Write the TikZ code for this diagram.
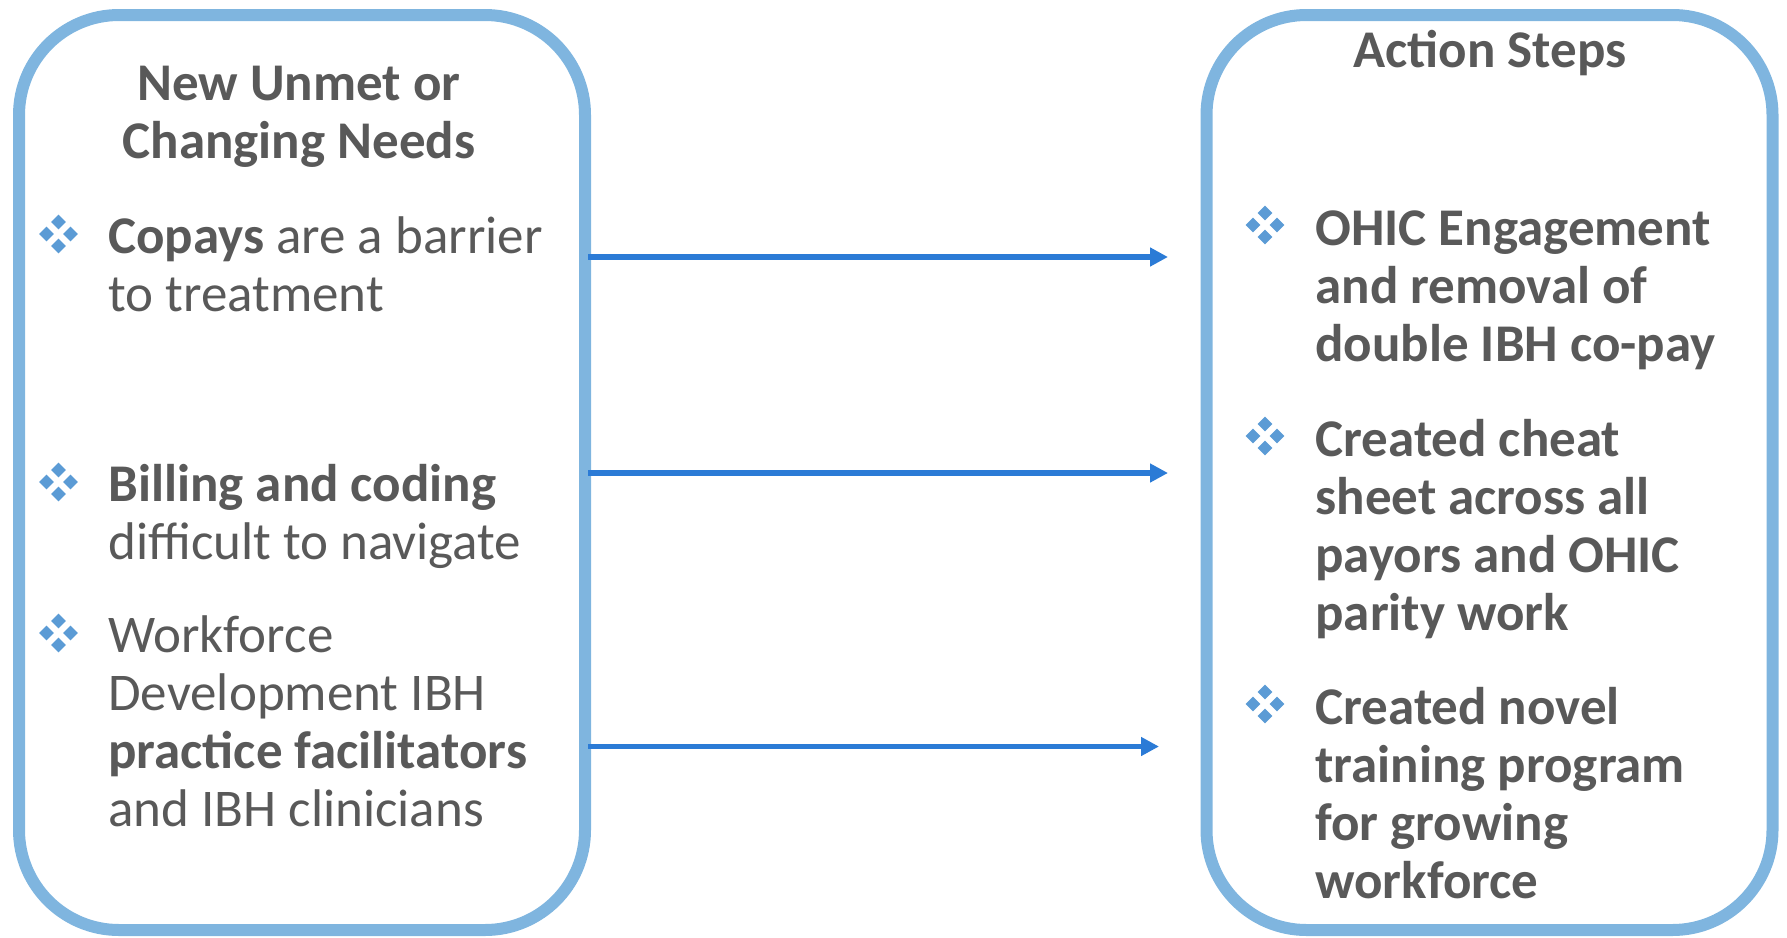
\documentclass[tikz,border=0pt]{standalone}
\usepackage{fontspec}
\setmainfont{Carlito}
\usetikzlibrary{arrows.meta}
\definecolor{boxc}{HTML}{7FB5DF}
\definecolor{arrc}{HTML}{2B7BD6}
\definecolor{bulc}{HTML}{5B9BD5}
\definecolor{txtc}{HTML}{595959}
\begin{document}
\begin{tikzpicture}[x=0.5pt,y=-0.5pt,
  panel/.style={draw=boxc,line width=6pt,rounded corners=50pt,minimum width=283pt,minimum height=457.5pt,inner sep=0pt,outer sep=0pt},
  conn/.style={draw=arrc,line width=2.6pt,-{Triangle[length=9pt,width=9pt]}},
  txt/.style={text=txtc,font=\fontsize{26.5}{29}\selectfont,inner sep=0pt,anchor=base west,align=flush left,text width=250pt},
  ttl/.style={text=txtc,font=\fontsize{26.5}{29}\selectfont\bfseries,inner sep=0pt,anchor=base,align=flush center,text width=300pt},
  quad/.pic={\foreach \dx/\dy in {0/-12,-12/0,12/0,0/12}{\fill[bulc] (\dx,\dy-7.3) -- (\dx+7.3,\dy) -- (\dx,\dy+7.3) -- (\dx-7.3,\dy) -- cycle;}}]
\useasboundingbox (0,0) rectangle (1787,937);
% panels
\node[panel] (L) at (302,472.5) {};
\node[panel] (R) at (1489.5,472.5) {};
% titles
\node[ttl] (Lt) at (299,100) {New Unmet or\\Changing Needs};
\node[ttl] (Rt) at (1490,67) {Action Steps};
% left bullets
\pic at (58.5,234) {quad};
\node[txt] (L1) at (108,253) {\textbf{Copays} are a barrier\\to treatment};
\pic at (58.5,482) {quad};
\node[txt] (L2) at (108,501) {\textbf{Billing and coding}\\difficult to navigate};
\pic at (58.5,633) {quad};
\node[txt] (L3) at (108,652) {Workforce\\Development IBH\\\textbf{practice facilitators}\\and IBH clinicians};
% right bullets
\pic at (1265,225) {quad};
\node[txt,font=\fontsize{26.5}{29}\selectfont\bfseries] (R1) at (1315,245) {OHIC Engagement\\and removal of\\double IBH co-pay};
\pic at (1265,436) {quad};
\node[txt,font=\fontsize{26.5}{29}\selectfont\bfseries] (R2) at (1315,456) {Created cheat\\sheet across all\\payors and OHIC\\parity work};
\pic at (1265,704) {quad};
\node[txt,font=\fontsize{26.5}{29}\selectfont\bfseries] (R3) at (1315,724) {Created novel\\training program\\for growing\\workforce};
% connectors
\coordinate (a1s) at (588,257);
\coordinate (a1e) at (1168,257);
\coordinate (a2s) at (588,473);
\coordinate (a2e) at (1168,473);
\coordinate (a3s) at (588,746.5);
\coordinate (a3e) at (1159,746.5);
\draw[conn] (a1s) -- (a1e);
\draw[conn] (a2s) -- (a2e);
\draw[conn] (a3s) -- (a3e);
\end{tikzpicture}
\end{document}
